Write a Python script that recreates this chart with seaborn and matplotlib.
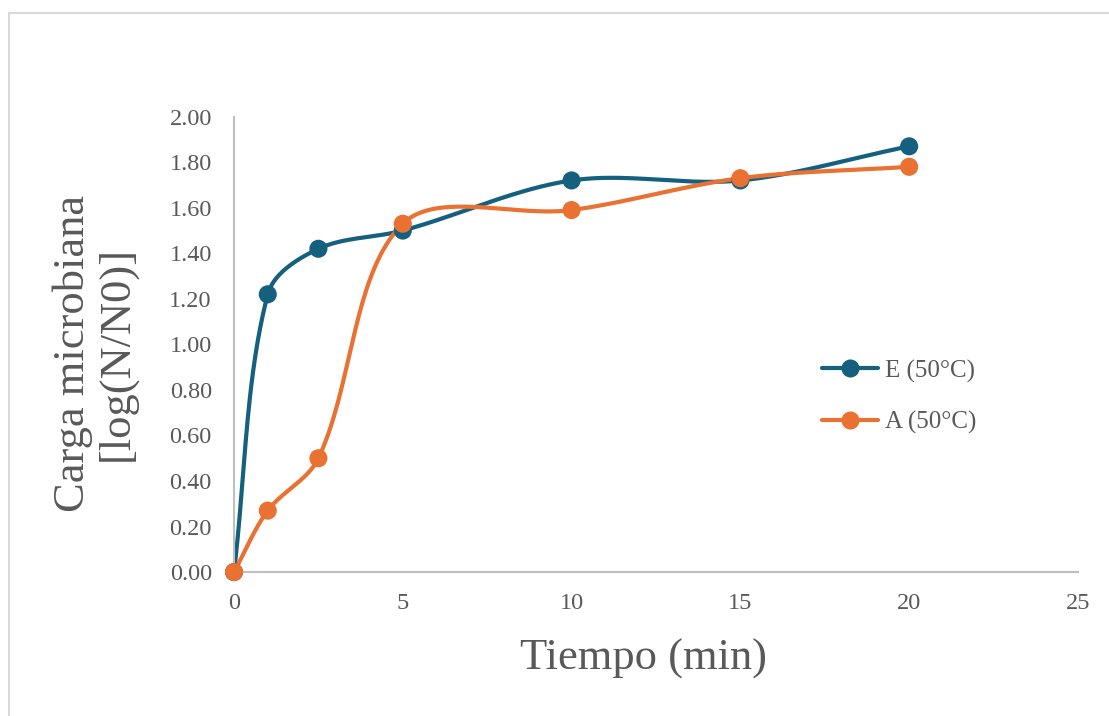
import numpy as np
import pandas as pd
import matplotlib
matplotlib.use("Agg")
import matplotlib.pyplot as plt
from matplotlib.lines import Line2D
from matplotlib.patches import Rectangle
import seaborn as sns

# values
tiempo = [0, 1, 2.5, 5, 10, 15, 20]
carga_e = [0.00, 1.22, 1.42, 1.50, 1.72, 1.72, 1.87]
carga_a = [0.00, 0.27, 0.50, 1.53, 1.59, 1.73, 1.78]
series_names = ["E (50°C)", "A (50°C)"]
series_colors = ["#15607f", "#e97132"]
x_ticks = [0, 5, 10, 15, 20, 25]
y_ticks = [0.0, 0.2, 0.4, 0.6, 0.8, 1.0, 1.2, 1.4, 1.6, 1.8, 2.0]


def smooth_curve(x, y, sx=1.0, sy=1.0, n=40):
    # Excel-like smoothed line: cubic bezier, tangents weighted by segment length
    P = np.column_stack([np.asarray(x, float) * sx, np.asarray(y, float) * sy])
    m = len(P)
    ctrl_out, ctrl_in = [], []
    for i in range(m):
        prev_p = P[max(i - 1, 0)]
        next_p = P[min(i + 1, m - 1)]
        tang = next_p - prev_p
        d_prev = np.linalg.norm(P[i] - prev_p)
        d_next = np.linalg.norm(next_p - P[i])
        tot = d_prev + d_next if d_prev + d_next > 0 else 1.0
        ctrl_out.append(P[i] + tang * d_next / tot / 3)
        ctrl_in.append(P[i] - tang * d_prev / tot / 3)
    t = np.linspace(0, 1, n)[:, None]
    pts = []
    for i in range(m - 1):
        p0, p1, p2, p3 = P[i], ctrl_out[i], ctrl_in[i + 1], P[i + 1]
        b = (1 - t) ** 3 * p0 + 3 * (1 - t) ** 2 * t * p1 + 3 * (1 - t) * t ** 2 * p2 + t ** 3 * p3
        pts.append(b)
    pts = np.vstack(pts)
    return pts[:, 0] / sx, pts[:, 1] / sy


df = pd.DataFrame({
    "Tiempo": tiempo * 2,
    "Carga": carga_e + carga_a,
    "Serie": [series_names[0]] * len(tiempo) + [series_names[1]] * len(tiempo),
})

sns.set_style("white")
plt.rcParams["font.family"] = ["Liberation Serif", "DejaVu Serif"]

fig = plt.figure(figsize=(11.09, 7.16), dpi=100)
ax = fig.add_axes([0.211, 0.201, 0.761, 0.636])

palette = dict(zip(series_names, series_colors))
for name, vals in zip(series_names, [carga_e, carga_a]):
    cx, cy = smooth_curve(tiempo, vals, sx=844 / 25, sy=455 / 2)
    ax.plot(cx, cy, color=palette[name], lw=3, solid_capstyle="round", zorder=2)

sns.scatterplot(data=df, x="Tiempo", y="Carga", hue="Serie", palette=palette,
                s=170, edgecolor="none", legend=False, ax=ax, zorder=3, clip_on=False)

ax.set_xlim(0, 25)
ax.set_ylim(0, 2.0)
ax.set_xticks(x_ticks)
ax.set_yticks(y_ticks)
ax.set_yticklabels([f"{v:.2f}" for v in y_ticks])
ax.tick_params(axis="both", labelsize=17.5, colors="#595959", length=0)
ax.tick_params(axis="y", pad=16)
ax.tick_params(axis="x", pad=15)

for side in ["top", "right"]:
    ax.spines[side].set_visible(False)
for side in ["left", "bottom"]:
    ax.spines[side].set_color("#bfbfbf")
    ax.spines[side].set_linewidth(1.5)

ax.set_xlabel("Tiempo (min)", fontsize=32, color="#595959")
ax.xaxis.set_label_coords(0.485, -0.145)
ax.set_ylabel("Carga microbiana\n[log(N/N0)]", fontsize=32, color="#595959",
              linespacing=1.1)
ax.yaxis.set_label_coords(-0.115, 0.481)

handles = [Line2D([0], [0], color=c, lw=3, marker="o", markersize=12)
           for c in series_colors]
ax.legend(handles, series_names, loc="center left",
          bbox_to_anchor=(822 / 1109, 1 - 397 / 716), bbox_transform=fig.transFigure,
          frameon=False, fontsize=18, labelcolor="#595959", handlelength=2.24,
          labelspacing=1.15, handletextpad=0.28, borderpad=0, borderaxespad=0)

fig.patches.append(Rectangle((9 / 1109, -0.05), 1.1, 1 - 13 / 716 + 0.05,
                             transform=fig.transFigure, fill=False,
                             edgecolor="#d9d9d9", lw=1.5))

fig.savefig("out.png", dpi=100)
